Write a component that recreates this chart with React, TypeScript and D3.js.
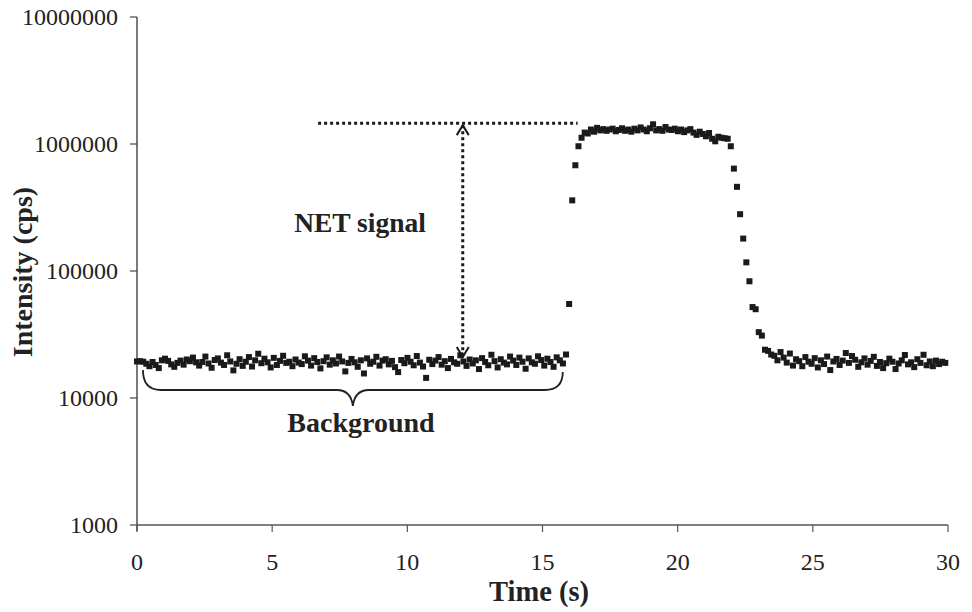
import React from "react";
import * as d3 from "d3";

// Sampling interval of the detector (s)
const sampleInterval = 0.115;

// Background before the transient (cps)
const backgroundBefore = [
  19400, 19500, 19300, 18600, 17800, 19200, 18200, 17200, 19800, 20400, 19600, 18400, 17600, 18900, 19700, 18300, 20100, 19500, 20800, 19100,
  18000, 19200, 21200, 18700, 17300, 19900, 20500, 19000, 18200, 21700, 19400, 16500, 18600, 20200, 17900, 19300, 21000, 17700, 19800, 22300,
  18800, 20400, 19100, 17400, 20700, 18200, 19600, 21500, 18900, 19300, 17800, 20100, 19000, 18500, 21300, 19700, 18000, 20600, 19200, 17100,
  19500, 20900, 18300, 19800, 18700, 21200, 19400, 16200, 18900, 20300, 19100, 17600, 19800, 15600, 20500, 18600, 19300, 21100, 18000, 19700,
  20200, 18400, 19600, 17500, 16000, 19900, 18800, 20700, 19300, 18100, 21400, 19000, 17700, 14400, 20000, 18500, 19700, 21000, 18300, 19500,
  17200, 20300, 19100, 18600, 21700, 19400, 17900, 20100, 18700, 19800, 16900, 20600, 19200, 18100, 21900, 19500, 17400, 20200, 19000, 18400,
  21200, 19700, 18200, 20800, 19300, 17000, 20500, 19100, 18600, 21300, 19900, 18000, 20400, 19200, 17600, 20900, 19800, 18700, 22000,
];
// Signal rise
const rise = [55000, 360000, 680000, 960000];
// Signal plateau
const plateau = [
  1120000, 1230000, 1210000, 1300000, 1250000, 1340000, 1280000, 1310000, 1270000, 1300000,
  1320000, 1260000, 1290000, 1330000, 1270000, 1300000, 1250000, 1320000, 1280000, 1350000,
  1300000, 1260000, 1330000, 1430000, 1280000, 1310000, 1270000, 1360000, 1300000, 1290000,
  1320000, 1260000, 1300000, 1240000, 1280000, 1310000, 1230000, 1180000, 1250000, 1200000,
  1150000, 1220000, 1100000, 1050000, 1140000, 1120000, 1110000, 1100000,
];
// Signal fall
const fall = [960000, 640000, 460000, 280000, 180000, 117000, 83000, 52000, 50000, 33000, 31000];
// Background after the transient
const backgroundAfter = [
  24000, 23500, 22000, 21500, 19800, 23000, 20800, 19000, 22400, 18000, 20200, 19500, 17800, 21000, 19300, 18600, 20600, 17400, 19800, 18500,
  21200, 16600, 19400, 20300, 18200, 19700, 22600, 18900, 21400, 20000, 17600, 19100, 20500, 18300, 19600, 21100, 17900, 19200, 17200, 18800,
  20400, 19300, 16900, 18700, 19800, 21800, 18400, 19100, 17500, 20200, 18900, 21900, 18100, 19400, 17800, 19700, 18500, 19300, 18900,
];

const xTicks = [0, 5, 10, 15, 20, 25, 30];
const yTicks = [1000, 10000, 100000, 1000000, 10000000];

// Annotation values
const netLineStart = 6.7;
const netLineEnd = 16.3;
const netLevel = 1460000;
const netArrowTime = 12.05;
const netArrowBottom = 21000;
const braceStart = 0.22;
const braceEnd = 15.75;

const W = 972;
const H = 612;
const FONT = "'Liberation Serif', 'Times New Roman', serif";

export default function App() {
  const values = [...backgroundBefore, ...rise, ...plateau, ...fall, ...backgroundAfter];
  const data = values.map((v, i) => ({ t: i * sampleInterval, v }));

  const x = d3.scaleLinear().domain([0, 30]).range([137, 948]);
  const y = d3.scaleLog().domain([1000, 10000000]).range([525, 17]);

  const ms = 6;
  const ax = x(netArrowTime);
  const aTop = y(netLevel);
  const aBot = y(netArrowBottom);

  const bx0 = x(braceStart);
  const bx1 = x(braceEnd);
  const bm = (bx0 + bx1) / 2;
  const by = 390;
  const brace = `M${bx0},${by - 20} Q${bx0},${by} ${bx0 + 18},${by} L${bm - 16},${by} Q${bm - 2},${by} ${bm},${by + 16} Q${bm + 2},${by} ${bm + 16},${by} L${bx1 - 18},${by} Q${bx1},${by} ${bx1},${by - 18}`;

  return (
    <svg width={W} height={H} style={{ position: "absolute", left: 0, top: 0, background: "#fff" }}>
      {/* axes */}
      <line x1={137} y1={17} x2={137} y2={531} stroke="#333" strokeWidth={1.3} />
      <line x1={137} y1={525} x2={948} y2={525} stroke="#555" strokeWidth={1.3} />
      {yTicks.map((t) => (
        <g key={t}>
          <line x1={130} x2={137} y1={y(t)} y2={y(t)} stroke="#444" strokeWidth={1.2} />
          <text x={118} y={y(t) + 8} textAnchor="end" fontFamily={FONT} fontSize={24} fill="#222">
            {t}
          </text>
        </g>
      ))}
      {xTicks.map((t) => (
        <g key={t}>
          <line x1={x(t)} x2={x(t)} y1={525} y2={532} stroke="#555" strokeWidth={1.2} />
          <text x={x(t)} y={570} textAnchor="middle" fontFamily={FONT} fontSize={24} fill="#222">
            {t}
          </text>
        </g>
      ))}
      <text x={539} y={601} textAnchor="middle" fontFamily={FONT} fontSize={28.5} fontWeight="bold" fill="#222">
        Time (s)
      </text>
      <text
        transform={`translate(32,272) rotate(-90)`}
        textAnchor="middle"
        fontFamily={FONT}
        fontSize={28}
        fontWeight="bold"
        fill="#222"
      >
        Intensity (cps)
      </text>

      {/* data points */}
      {data.map((d, i) => (
        <rect key={i} x={x(d.t) - ms / 2} y={y(d.v) - ms / 2} width={ms} height={ms} fill="#1a1a1a" />
      ))}

      {/* NET signal annotation */}
      <line x1={x(netLineStart)} x2={x(netLineEnd)} y1={aTop} y2={aTop} stroke="#1a1a1a" strokeWidth={3} strokeDasharray="3,3" />
      <line x1={ax} x2={ax} y1={aTop + 2} y2={aBot} stroke="#1a1a1a" strokeWidth={3} strokeDasharray="3,3" />
      <polyline points={`${ax - 6},${aTop + 12} ${ax},${aTop + 2} ${ax + 6},${aTop + 12}`} fill="none" stroke="#1a1a1a" strokeWidth={2} />
      <polyline points={`${ax - 6},${aBot - 10} ${ax},${aBot} ${ax + 6},${aBot - 10}`} fill="none" stroke="#1a1a1a" strokeWidth={2} />
      <text x={360} y={232} textAnchor="middle" fontFamily={FONT} fontSize={27.5} fontWeight="bold" fill="#222">
        NET signal
      </text>

      {/* Background brace */}
      <path d={brace} fill="none" stroke="#222" strokeWidth={1.8} />
      <text x={361} y={432} textAnchor="middle" fontFamily={FONT} fontSize={28} fontWeight="bold" fill="#222">
        Background
      </text>
    </svg>
  );
}
